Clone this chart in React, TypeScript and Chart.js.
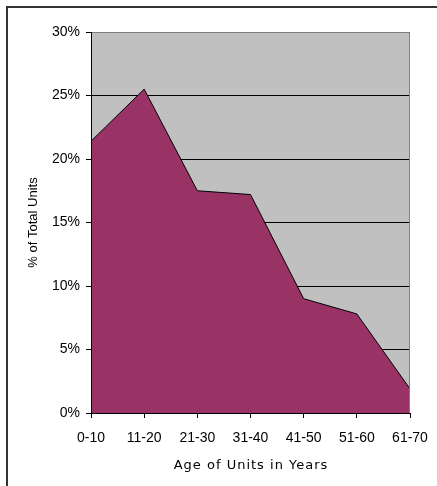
import React, { useEffect, useRef } from "react";
import { Chart, registerables } from "chart.js";

Chart.register(...registerables);

// Age bands of the housing stock and their share of all units (%)
const ageBands = ["0-10", "11-20", "21-30", "31-40", "41-50", "51-60", "61-70"];
const shareOfUnits = [21.4, 25.5, 17.5, 17.2, 9.0, 7.8, 1.9];
const percentTicks = [0, 5, 10, 15, 20, 25, 30];

const yTitle = "% of Total Units";
const xTitle = "Age of Units in Years";

const PLOT_BG = "#C0C0C0";
const AREA_FILL = "#993366";

// Paints the white page, grey plot panel, outer frame, axis lines and the x title.
const chartDecor = {
  id: "chartDecor",
  beforeDraw(chart: any) {
    const { ctx, chartArea: a } = chart;
    ctx.save();
    ctx.fillStyle = "#ffffff";
    ctx.fillRect(0, 0, chart.width, chart.height);
    ctx.fillStyle = PLOT_BG;
    ctx.fillRect(a.left, a.top, a.right - a.left, a.bottom - a.top);
    ctx.strokeStyle = "#333333";
    ctx.lineWidth = 2;
    ctx.strokeRect(7, 7, chart.width + 20, chart.height + 20);
    ctx.restore();
  },
  afterDatasetsDraw(chart: any) {
    const { ctx, chartArea: a } = chart;
    ctx.save();
    ctx.lineWidth = 1;
    // top and right edges of the plot panel
    ctx.strokeStyle = "#808080";
    ctx.beginPath();
    ctx.moveTo(a.left, a.top + 0.5);
    ctx.lineTo(a.right - 0.5, a.top + 0.5);
    ctx.lineTo(a.right - 0.5, a.bottom);
    ctx.stroke();
    // value and category axis lines
    ctx.strokeStyle = "#000000";
    ctx.beginPath();
    ctx.moveTo(a.left + 0.5, a.top);
    ctx.lineTo(a.left + 0.5, a.bottom + 0.5);
    ctx.lineTo(a.right, a.bottom + 0.5);
    ctx.stroke();
    ctx.restore();
  },
  afterDraw(chart: any) {
    const { ctx, chartArea: a } = chart;
    ctx.save();
    ctx.font = "13px 'DejaVu Sans'";
    (ctx as any).letterSpacing = "1px";
    ctx.fillStyle = "#000000";
    ctx.textAlign = "center";
    ctx.textBaseline = "middle";
    ctx.fillText(xTitle, (a.left + a.right) / 2 + 0.5, 466);
    ctx.restore();
  },
};

export default function App() {
  const canvasRef = useRef<HTMLCanvasElement | null>(null);

  useEffect(() => {
    const canvas = canvasRef.current;
    if (!canvas) return;
    const tickFont = { family: "'Liberation Sans', Arial, sans-serif", size: 14 };

    const chart = new Chart(canvas, {
      type: "line",
      data: {
        labels: ageBands,
        datasets: [
          {
            data: shareOfUnits,
            fill: "origin",
            backgroundColor: AREA_FILL,
            borderColor: "#000000",
            borderWidth: 1,
            pointRadius: 0,
            pointHoverRadius: 0,
            tension: 0,
          },
        ],
      },
      options: {
        responsive: false,
        animation: false,
        events: [],
        layout: { padding: { top: 32, right: 27, left: 0, bottom: 0 } },
        plugins: {
          legend: { display: false },
          tooltip: { enabled: false },
          title: { display: false },
        },
        scales: {
          x: {
            type: "category",
            offset: false,
            grid: {
              display: true,
              drawOnChartArea: false,
              drawTicks: true,
              tickLength: 5,
              color: "#000000",
            },
            border: { display: true, color: "#000000", width: 1 },
            ticks: {
              font: tickFont,
              color: "#000000",
              padding: 12,
              maxRotation: 0,
              autoSkip: false,
            },
            afterFit: (scale: any) => {
              scale.height = 73;
              scale.paddingLeft = 0;
              scale.paddingRight = 0;
            },
          },
          y: {
            min: 0,
            max: 30,
            afterBuildTicks: (scale: any) => {
              scale.ticks = percentTicks.map((v) => ({ value: v }));
            },
            grid: {
              color: "#000000",
              lineWidth: 1,
              drawTicks: true,
              tickLength: 5,
            },
            border: { display: true, color: "#000000", width: 1 },
            ticks: {
              font: tickFont,
              color: "#000000",
              padding: 6,
              callback: (v: any) => `${v}%`,
            },
            title: {
              display: true,
              text: yTitle,
              color: "#000000",
              font: { family: "'Liberation Sans', Arial, sans-serif", size: 13 },
              padding: { top: 26, bottom: 0 },
            },
            afterFit: (scale: any) => {
              scale.width = 91;
              scale.paddingTop = 0;
              scale.paddingBottom = 0;
            },
          },
        },
      },
      plugins: [chartDecor],
    });

    return () => chart.destroy();
  }, []);

  return (
    <div style={{ position: "absolute", left: 0, top: 0, width: 437, height: 486 }}>
      <canvas ref={canvasRef} width={437} height={486} style={{ display: "block" }} />
    </div>
  );
}
